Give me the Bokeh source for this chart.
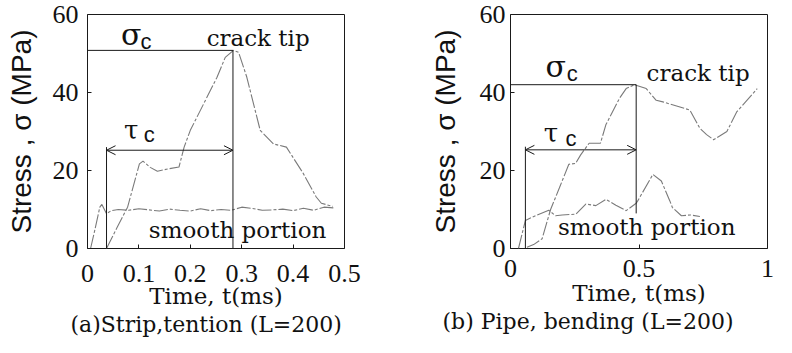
from bokeh.plotting import figure
from bokeh.models import Range1d, FixedTicker, Arrow, OpenHead, Label, Title
from bokeh.layouts import row
from bokeh.embed import file_html
from bokeh.resources import INLINE

# ---------------- data : (a) strip, tension ----------------
a_crack_t = [0.037, 0.058, 0.078, 0.101, 0.108, 0.122, 0.136, 0.156, 0.178, 0.188, 0.200,
             0.226, 0.252, 0.268, 0.284, 0.294, 0.310, 0.336, 0.362, 0.387, 0.420, 0.445,
             0.455, 0.477]
a_crack_s = [0.0, 5.5, 10.6, 21.7, 22.4, 20.8, 19.8, 20.4, 20.9, 26.0, 30.3,
             37.1, 43.9, 49.0, 50.8, 50.3, 43.9, 30.3, 26.8, 26.0, 19.2, 13.2,
             11.6, 10.8]
a_smooth_t = [0.006, 0.014, 0.024, 0.028, 0.037, 0.046, 0.06, 0.08, 0.10, 0.12, 0.14, 0.16,
              0.18, 0.20, 0.22, 0.24, 0.26, 0.28, 0.30, 0.32, 0.34, 0.36, 0.38, 0.40,
              0.42, 0.44, 0.46, 0.48]
a_smooth_s = [0.0, 4.6, 10.6, 11.3, 8.9, 9.7, 10.0, 9.8, 10.2, 9.9, 9.6, 10.1,
              9.8, 9.6, 10.2, 9.7, 10.0, 9.8, 10.6, 10.3, 9.8, 9.9, 10.1, 9.7,
              10.3, 9.8, 10.6, 10.4]
a_sigma_c = 50.8          # critical stress (MPa)
a_tau_c = [0.037, 0.283]  # start / end of critical time (ms)
a_tau_level = 25.2        # height of the tau_c arrow
a_right_bottom = 0.0      # lower end of the vertical line at tau_c end

# ---------------- data : (b) pipe, bending ----------------
b_crack_t = [0.064, 0.09, 0.123, 0.156, 0.19, 0.227, 0.253, 0.273, 0.306, 0.35, 0.371,
             0.424, 0.45, 0.482, 0.528, 0.567, 0.593, 0.698, 0.737, 0.763, 0.79, 0.842,
             0.881, 0.96]
b_crack_s = [0.3, 1.0, 2.5, 10.0, 15.5, 21.6, 21.8, 24.0, 27.0, 27.0, 31.7,
             38.5, 41.0, 42.0, 41.0, 38.0, 37.6, 35.5, 30.8, 29.2, 27.9, 30.0,
             35.1, 41.0]
b_smooth_t = [0.031, 0.058, 0.10, 0.149, 0.175, 0.201, 0.254, 0.293, 0.332, 0.371, 0.41,
              0.45, 0.489, 0.495, 0.554, 0.587, 0.62, 0.63, 0.665, 0.70, 0.737]
b_smooth_s = [0.0, 7.2, 8.5, 9.8, 8.4, 8.6, 8.8, 11.4, 11.0, 12.6, 11.1,
              9.7, 11.6, 12.2, 19.0, 17.3, 12.2, 10.5, 8.4, 8.6, 8.2]
b_sigma_c = 42.0
b_tau_c = [0.058, 0.489]
b_tau_level = 25.3
b_right_bottom = 9.0

# ---------------- ticks / texts ----------------
a_xticks = [0, 0.1, 0.2, 0.3, 0.4, 0.5]
a_xlabels = ["0", "0.1", "0.2", "0.3", "0.4", "0.5"]
b_xticks = [0, 0.5, 1]
b_xlabels = ["0", "0.5", "1"]
yticks = [0, 20, 40, 60]
ylabels = ["0", "20", "40", "60"]
x_title = "Time, t(ms)"
y_title = "Stress , \u03c3 (MPa)"
a_caption = "(a)Strip,tention (L=200)"
b_caption = "(b) Pipe, bending (L=200)"

SERIF = "DejaVu Serif"
TICKF = "Liberation Serif"
SANS = "Liberation Sans"
CURVE = "#7a7a7a"
INK = "#1a1a1a"


def panel(width, bl, br, xmax, xticks, xlabels, crack, smooth, sig_c, tau_c, tau_y,
          rbot, caption, txt):
    p = figure(width=width, height=337, x_range=Range1d(0, xmax), y_range=Range1d(0, 60),
               output_backend="svg", toolbar_location=None,
               min_border_left=bl, min_border_right=br, min_border_top=14,
               min_border_bottom=89)
    p.grid.visible = False
    p.outline_line_color = INK
    p.outline_line_width = 1
    p.background_fill_color = "white"
    p.border_fill_color = "white"

    p.xaxis.axis_line_color = None
    p.yaxis.axis_line_color = None
    p.xaxis.major_tick_in = 4
    p.yaxis.major_tick_in = 4
    p.xaxis.major_tick_out = 0
    p.yaxis.major_tick_out = 0
    p.xaxis.minor_tick_line_color = None
    p.yaxis.minor_tick_line_color = None
    p.xaxis.major_tick_line_color = INK
    p.yaxis.major_tick_line_color = INK
    p.xaxis.major_label_text_font = TICKF
    p.yaxis.major_label_text_font = TICKF
    p.xaxis.major_label_text_font_size = "26px"
    p.yaxis.major_label_text_font_size = "26px"
    p.xaxis.major_label_text_color = "#111111"
    p.yaxis.major_label_text_color = "#111111"
    p.xaxis.ticker = FixedTicker(ticks=xticks)
    p.xaxis.major_label_overrides = {t: l for t, l in zip(xticks, xlabels)}
    p.yaxis.ticker = FixedTicker(ticks=yticks)
    p.yaxis.major_label_overrides = {t: l for t, l in zip(yticks, ylabels)}
    p.xaxis.major_label_standoff = txt["xstand"]
    p.yaxis.major_label_standoff = txt["ystand"]

    p.xaxis.axis_label = x_title
    p.xaxis.axis_label_text_font = SERIF
    p.xaxis.axis_label_text_font_size = "23px"
    p.xaxis.axis_label_text_font_style = "normal"
    p.xaxis.axis_label_text_color = "#111111"
    p.xaxis.axis_label_standoff = txt["xlstand"]
    p.yaxis.axis_label = y_title
    p.yaxis.axis_label_text_font = SANS
    p.yaxis.axis_label_text_font_size = "28px"
    p.yaxis.axis_label_text_font_style = "normal"
    p.yaxis.axis_label_text_color = "#111111"
    p.yaxis.axis_label_standoff = txt["ylstand"]

    p.add_layout(Title(text=caption, align="left", offset=txt["capoff"],
                       text_font=SERIF, text_font_size="22px", text_font_style="normal",
                       text_color="#111111", standoff=txt["capstand"]), "below")

    # curves
    p.line(crack[0], crack[1], line_color=CURVE, line_width=1.1, line_dash="14 2 3 2")
    p.line(smooth[0], smooth[1], line_color=CURVE, line_width=1.1, line_dash="14 2 3 2")

    # sigma_c / tau_c construction lines
    p.line([0, tau_c[1]], [sig_c, sig_c], line_color=INK, line_width=1)
    p.line([tau_c[1], tau_c[1]], [sig_c, rbot], line_color=INK, line_width=1)
    p.line([tau_c[0], tau_c[0]], [tau_y + 0.8, 0], line_color=INK, line_width=1)
    p.add_layout(Arrow(start=OpenHead(size=9, line_color=INK, line_width=1),
                       end=OpenHead(size=9, line_color=INK, line_width=1),
                       x_start=tau_c[0], y_start=tau_y, x_end=tau_c[1], y_end=tau_y,
                       line_color=INK, line_width=1))

    def lab(pos, text, font, size):
        p.add_layout(Label(x=pos[0], y=pos[1], text=text, text_font=font,
                           text_font_size=size, text_align="center",
                           text_baseline="middle", text_color="#111111"))

    lab(txt["sigma"], "\u03c3", SERIF, "30px")
    lab(txt["sigma_c"], "c", SANS, "22px")
    lab(txt["tau"], "\u03c4", SERIF, "26px")
    lab(txt["tau_c"], "c", SANS, "22px")
    lab(txt["crack"], "crack tip", SERIF, "23px")
    lab(txt["smooth"], "smooth portion", SERIF, "23px")
    return p


pa = panel(400, 87, 56, 0.5, a_xticks, a_xlabels, (a_crack_t, a_crack_s),
           (a_smooth_t, a_smooth_s), a_sigma_c, a_tau_c, a_tau_level, a_right_bottom,
           a_caption,
           dict(xstand=16, ystand=9, xlstand=-2, ylstand=13, capoff=-17, capstand=-4,
                sigma=(0.085, 55.0), sigma_c=(0.114, 53.0),
                tau=(0.085, 30.5), tau_c=(0.120, 29.3),
                crack=(0.332, 54.0), smooth=(0.292, 4.8)))
pb = panel(376, 110, 9, 1.0, b_xticks, b_xlabels, (b_crack_t, b_crack_s),
           (b_smooth_t, b_smooth_s), b_sigma_c, b_tau_c, b_tau_level, b_right_bottom,
           b_caption,
           dict(xstand=11, ystand=5, xlstand=0, ylstand=16, capoff=-68, capstand=-3,
                sigma=(0.176, 46.6), sigma_c=(0.240, 45.0),
                tau=(0.157, 29.5), tau_c=(0.235, 28.3),
                crack=(0.73, 45.1), smooth=(0.53, 5.4)))

layout = row(pa, pb)
open("out.html", "w").write(file_html(layout, INLINE))
